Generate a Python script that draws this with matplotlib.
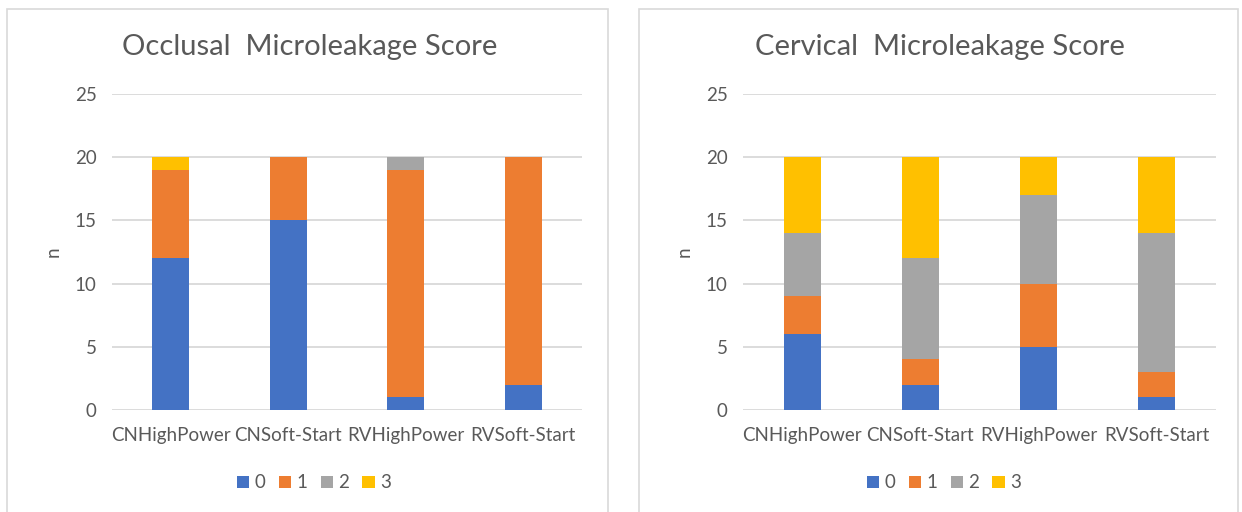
import numpy as np
import matplotlib.pyplot as plt
from matplotlib.patches import Rectangle

# data
groups = ["CNHighPower", "CNSoft-Start", "RVHighPower", "RVSoft-Start"]
scores = ["0", "1", "2", "3"]
colors = ["#4472C4", "#ED7D31", "#A5A5A5", "#FFC000"]

occlusal_0 = [12, 15, 1, 2]
occlusal_1 = [7, 5, 18, 18]
occlusal_2 = [0, 0, 1, 0]
occlusal_3 = [1, 0, 0, 0]

cervical_0 = [6, 2, 5, 1]
cervical_1 = [3, 2, 5, 2]
cervical_2 = [5, 8, 7, 11]
cervical_3 = [6, 8, 3, 6]

yticks = [0, 5, 10, 15, 20, 25]

plt.rcParams['font.family'] = ['Lato', 'DejaVu Sans']
txt = "#595959"
grid = "#D9D9D9"

W, H = 1242, 512
fig = plt.figure(figsize=(W / 100, H / 100), dpi=100)

# chart frames
for x0, x1 in [(7, 608), (639, 1238)]:
    fig.patches.append(Rectangle((x0 / W, -0.05), (x1 - x0) / W, (H - 9) / H + 0.05,
                                 transform=fig.transFigure, fill=False,
                                 edgecolor=grid, linewidth=1.2))


def draw(ax_box, title, series, title_x, legend_x, ylab_x):
    ax = fig.add_axes(ax_box)
    x = np.arange(len(groups))
    bottom = np.zeros(len(groups))
    for vals, c, lab in zip(series, colors, scores):
        ax.bar(x, vals, 0.315, bottom=bottom, color=c, label=lab, zorder=3)
        bottom += np.array(vals)
    ax.set_xlim(-0.5, 3.5)
    ax.set_ylim(0, 25)
    ax.set_yticks(yticks)
    ax.set_xticks(x)
    ax.set_xticklabels(groups)
    ax.yaxis.grid(True, color=grid, linewidth=1.3, zorder=0)
    for s in ax.spines.values():
        s.set_visible(False)
    ax.tick_params(length=0, labelsize=13.5, colors=txt, pad=11)
    ax.tick_params(axis='x', labelsize=13.5, pad=12)
    fig.text(ylab_x / W, 1 - 252 / H, "n", rotation=90, ha='center', va='center',
             fontsize=13.5, color=txt)
    fig.text(title_x / W, 1 - 47 / H, title, ha='center', va='center',
             fontsize=21, color=txt)
    handles, labels = ax.get_legend_handles_labels()
    fig.legend(handles, labels, loc='center', bbox_to_anchor=(legend_x / W, 1 - 483 / H),
               ncol=4, frameon=False, fontsize=13.5, labelcolor=txt,
               handlelength=0.65, handleheight=0.65, handletextpad=0.3,
               columnspacing=0.7)
    return ax


draw([112 / W, (512 - 410) / H, 470 / W, 316 / H], "Occlusal  Microleakage Score",
     [occlusal_0, occlusal_1, occlusal_2, occlusal_3], 310, 314, 53)
draw([743 / W, (512 - 410) / H, 473 / W, 316 / H], "Cervical  Microleakage Score",
     [cervical_0, cervical_1, cervical_2, cervical_3], 940, 944, 684)

fig.savefig("out.png", dpi=100)
